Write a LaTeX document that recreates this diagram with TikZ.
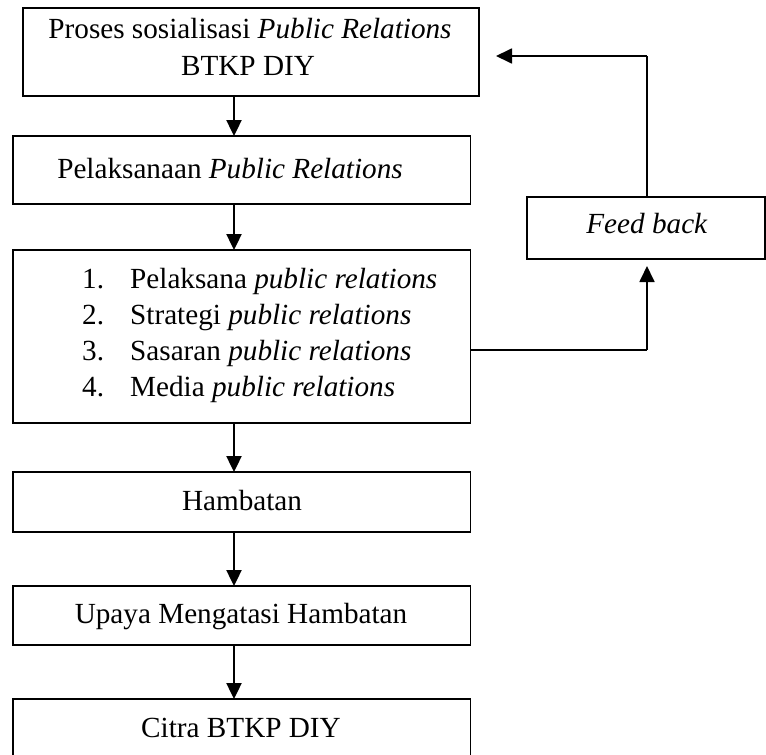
\documentclass[tikz,border=0pt]{standalone}
\usepackage{fontspec}
\setmainfont{Liberation Serif}
\usetikzlibrary{arrows.meta}
\begin{document}
\begin{tikzpicture}[x=1pt,y=-1pt,
  box/.style={draw, line width=1.8pt, inner sep=0pt, outer sep=0pt, rectangle},
  txt/.style={anchor=base, inner sep=0pt, font=\fontsize{29.2}{36}\selectfont},
  arr/.style={line width=2.4pt, -{Triangle[length=16pt,width=15pt]}},
  loop/.style={line width=1.8pt}]
\useasboundingbox (0,0) rectangle (766,755);
% boxes
\node[box, minimum width=456.3pt, minimum height=88pt] (b1) at (250.85,52) {};
\node[box, minimum width=457.5pt, minimum height=68pt] (b2) at (241.75,170) {};
\node[box, minimum width=457.5pt, minimum height=173pt] (b3) at (241.75,336.5) {};
\node[box, minimum width=457.5pt, minimum height=60pt] (b4) at (241.75,502) {};
\node[box, minimum width=457.5pt, minimum height=59pt] (b5) at (241.75,615.5) {};
\node[box, minimum width=457.5pt, minimum height=62pt] (b6) at (241.75,730) {};
\node[box, minimum width=238pt, minimum height=62pt] (fb) at (646,228) {};
% texts
\node[txt] (t1a) at (250,38) {Proses sosialisasi \textit{Public Relations}};
\node[txt] (t1b) at (248,75) {BTKP DIY};
\node[txt] (t2) at (230,178) {Pelaksanaan \textit{Public Relations}};
\node[txt, anchor=base west] (n1) at (82,288) {1.};
\node[txt, anchor=base west] (n2) at (82,324) {2.};
\node[txt, anchor=base west] (n3) at (82,360) {3.};
\node[txt, anchor=base west] (n4) at (82,396) {4.};
\node[txt, anchor=base west] (l1) at (130,288) {Pelaksana \textit{public relations}};
\node[txt, anchor=base west] (l2) at (130,324) {Strategi \textit{public relations}};
\node[txt, anchor=base west] (l3) at (130,360) {Sasaran \textit{public relations}};
\node[txt, anchor=base west] (l4) at (130,396) {Media \textit{public relations}};
\node[txt] (t4) at (242,510) {Hambatan};
\node[txt] (t5) at (241,623) {Upaya Mengatasi Hambatan};
\node[txt] (t6) at (241,737) {Citra BTKP DIY};
\node[txt] (tf) at (647,233) {\textit{Feed back}};
% connectors
\coordinate (ax) at (234,0);
\draw[arr] (b1.south -| ax) -- (b2.north -| ax);
\draw[arr] (b2.south -| ax) -- (b3.north -| ax);
\draw[arr] (b3.south -| ax) -- (b4.north -| ax);
\draw[arr] (b4.south -| ax) -- (b5.north -| ax);
\draw[arr] (b5.south -| ax) -- (b6.north -| ax);
\coordinate (fbx) at (647,350);
\coordinate (top) at (647,56);
\draw[loop] (b3.east |- fbx) -- (fbx);
\draw[arr, line width=1.8pt] (fbx) -- ([yshift=-7pt]fb.south -| fbx);
\draw[loop, line width=1.5pt] (fb.north -| top) -- (top);
\draw[arr, line width=1.8pt, shorten >=17pt] (top) -- (b1.east |- top);
\end{tikzpicture}
\end{document}
